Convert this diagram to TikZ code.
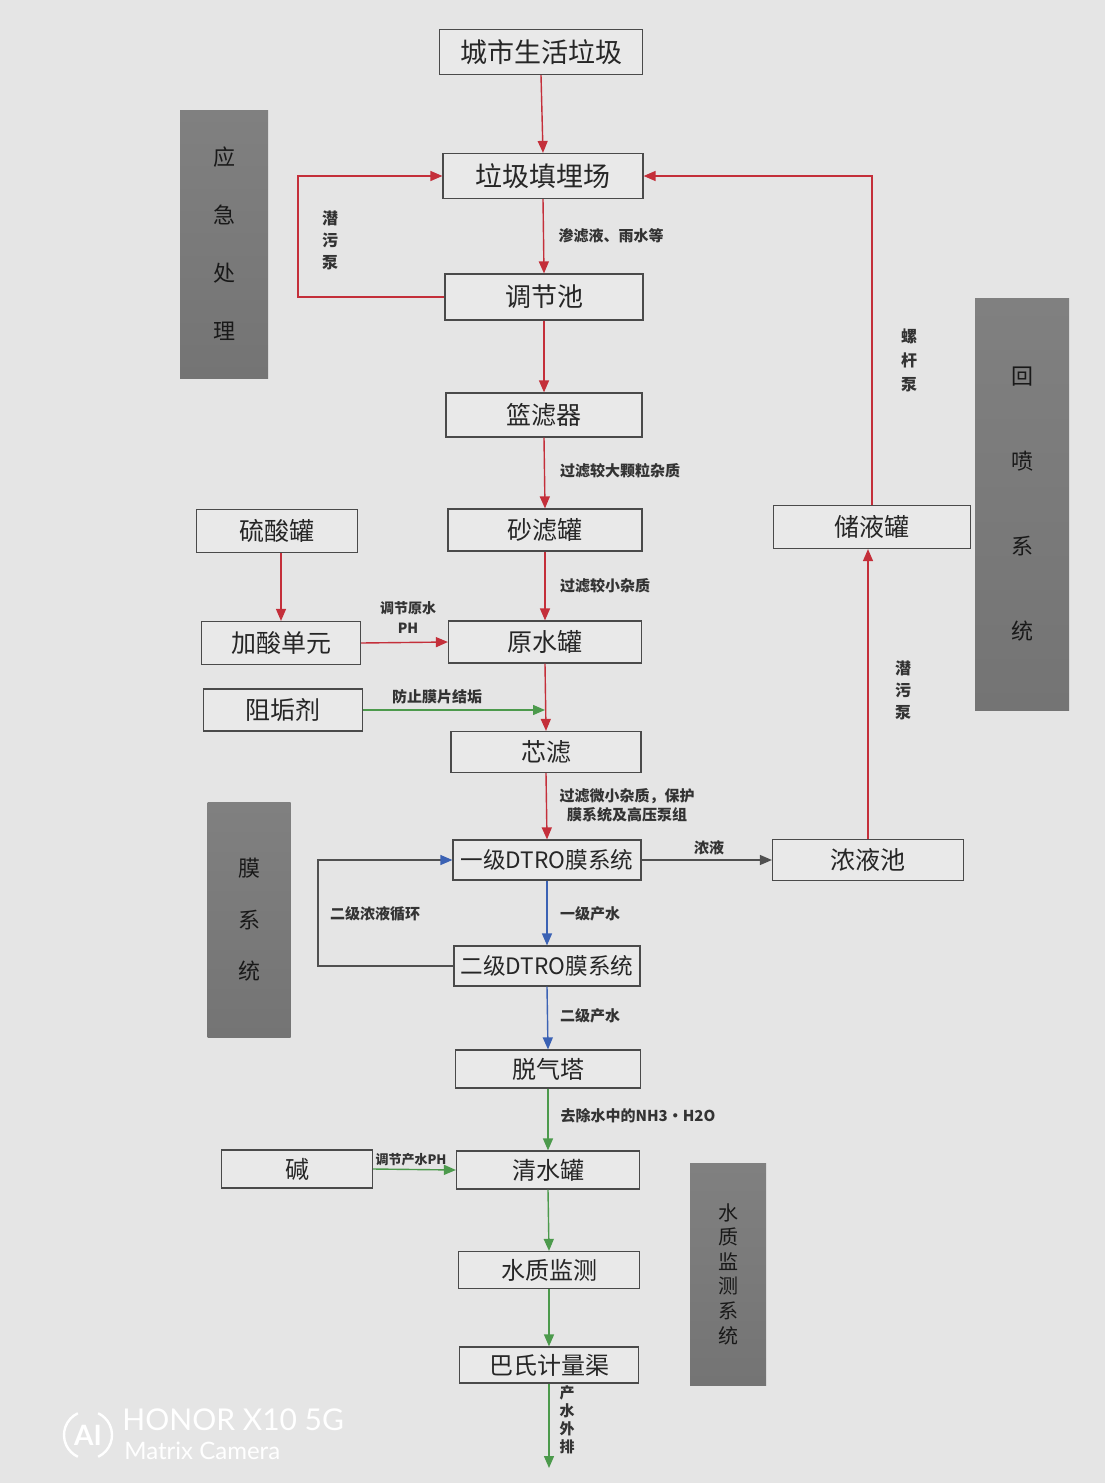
\documentclass[tikz,border=0pt]{standalone}
\usepackage{fontspec}
\setmainfont{Noto Sans CJK SC}
\newfontfamily\wmfont{Lato}
\usetikzlibrary{arrows.meta}
\definecolor{bgc}{HTML}{E5E5E5}
\definecolor{boxfill}{HTML}{E9E9E9}
\definecolor{boxline}{HTML}{4A4A4A}
\definecolor{redc}{HTML}{C42F3A}
\definecolor{bluec}{HTML}{3B62B4}
\definecolor{greenc}{HTML}{4C9A4C}
\definecolor{greyline}{HTML}{505050}
\definecolor{bartop}{HTML}{808080}
\definecolor{barbot}{HTML}{747474}
\begin{document}
\begin{tikzpicture}[x=0.5pt,y=-0.5pt,
  box/.style={draw=boxline, line width=0.6pt, fill=boxfill, inner sep=0pt,
    font=\fontsize{12.5}{14}\selectfont, text=black!85},
  dbox/.style={box, font=\fontsize{11.3}{14}\selectfont},
  lbl/.style={font=\fontsize{7.5}{9.5}\selectfont\bfseries, text=black!80, inner sep=1pt, align=center},
  bar/.style={top color=bartop, bottom color=barbot, draw=none, inner sep=0pt, align=center, text=black!90},
  tip/.style={-{Triangle[length=6pt,width=5pt]}},
  ra/.style={draw=redc, line width=0.7pt, tip},
  ba/.style={draw=bluec, line width=0.7pt, tip},
  ga/.style={draw=greenc, line width=0.7pt, tip},
  ka/.style={draw=greyline, line width=0.6pt, tip},
]
\fill[bgc] (0,0) rectangle (1105,1483);
\useasboundingbox (0,0) rectangle (1105,1483);

% side bars
\node[bar, minimum width=44pt, minimum height=134pt, font=\fontsize{11}{29}\selectfont] (b1) at (224,244) {应\\急\\处\\理};
\node[bar, minimum width=47pt, minimum height=206pt, font=\fontsize{11}{42.5}\selectfont] (b2) at (1022,504) {回\\喷\\系\\统};
\node[bar, minimum width=41.5pt, minimum height=117.5pt, font=\fontsize{11}{25.75}\selectfont] (b3) at (249,920) {膜\\系\\统};
\node[bar, minimum width=38pt, minimum height=111pt, font=\fontsize{10}{12.3}\selectfont] (b4) at (728,1274) {水\\质\\监\\测\\系\\统};

% main column
\node[box, minimum width=101.5pt, minimum height=22.5pt, font=\fontsize{13.5}{15}\selectfont] (n1) at (541,52) {城市生活垃圾};
\node[box, minimum width=100pt, minimum height=22.5pt, font=\fontsize{13.5}{15}\selectfont] (n2) at (543,176) {垃圾填埋场};
\node[box, minimum width=99pt, minimum height=23pt, font=\fontsize{13}{15}\selectfont] (n3) at (544,297) {调节池};
\node[box, minimum width=98pt, minimum height=22pt] (n4) at (544,415) {篮滤器};
\node[box, minimum width=97pt, minimum height=21pt] (n5) at (545,530) {砂滤罐};
\node[box, minimum width=96.5pt, minimum height=21pt] (n6) at (545,642) {原水罐};
\node[box, minimum width=95pt, minimum height=20.5pt] (n7) at (546,752) {芯滤};
\node[dbox, minimum width=94pt, minimum height=20pt] (n8) at (547,860) {一级DTRO膜系统};
\node[dbox, minimum width=93pt, minimum height=20pt] (n9) at (547,966) {二级DTRO膜系统};
\node[box, minimum width=92.5pt, minimum height=19pt, font=\fontsize{12}{14}\selectfont] (n10) at (548,1069) {脱气塔};
\node[box, minimum width=91.5pt, minimum height=19pt, font=\fontsize{12}{14}\selectfont] (n11) at (548,1170) {清水罐};
\node[box, minimum width=90.5pt, minimum height=18.5pt, font=\fontsize{12}{14}\selectfont] (n12) at (549,1270) {水质监测};
\node[box, minimum width=89.5pt, minimum height=18pt, font=\fontsize{12}{14}\selectfont] (n13) at (549,1365) {巴氏计量渠};

% side boxes
\node[box, minimum width=80.5pt, minimum height=21.5pt] (s1) at (277,531) {硫酸罐};
\node[box, minimum width=79.5pt, minimum height=21.5pt] (s2) at (281,643) {加酸单元};
\node[box, minimum width=79.5pt, minimum height=21pt] (s3) at (283,710) {阻垢剂};
\node[box, minimum width=75.5pt, minimum height=19pt, font=\fontsize{12}{14}\selectfont] (s4) at (297,1169) {碱};
\node[box, minimum width=98.5pt, minimum height=21.5pt] (r1) at (872,527) {储液罐};
\node[box, minimum width=95.5pt, minimum height=20.5pt] (r2) at (868,860) {浓液池};

% helper coordinates
\coordinate (lp) at (298,297);
\coordinate (mp) at (318,966);
\coordinate (j1) at (545,710);
\coordinate (out) at (549,1468);

% red flow
\draw[ra] (n1.south) -- (n2.north);
\draw[ra] (n2.south) -- (n3.north);
\draw[ra] (n3.west) -- (lp) |- (n2.west);
\draw[ra] (n3.south) -- (n4.north);
\draw[ra] (n4.south) -- (n5.north);
\draw[ra] (n5.south) -- (n6.north);
\draw[ra] (s1.south -| s2.north) -- (s2.north);
\draw[ra] (s2.east) -- (n6.west);
\draw[ra] (n6.south) -- (n7.north);
\draw[ga] (s3.east) -- (j1);
\draw[ra] (n7.south) -- (n8.north);
\draw[ra] (r2.north) -- (r2.north |- r1.south);
\draw[ra] (r1.north) -- (r1.north |- n2.east) -- (n2.east);

% membrane
\draw[ka] (n8.east) -- (r2.west);
\draw[ba] (n8.south) -- (n9.north);
\draw[draw=greyline, line width=0.6pt, -{Triangle[length=6pt,width=5pt,color=bluec]}] (n9.west) -- (mp) |- (n8.west);
\draw[ba] (n9.south) -- (n10.north);

% green flow
\draw[ga] (n10.south) -- (n11.north);
\draw[ga] (s4.east) -- (n11.west);
\draw[ga] (n11.south) -- (n12.north);
\draw[ga] (n12.south) -- (n13.north);
\draw[ga] (n13.south) -- (out);

% labels
\node[lbl] (l1) at (611,236) {渗滤液、雨水等};
\node[lbl, font=\fontsize{8}{11}\selectfont\bfseries] (l2) at (330,240) {潜\\污\\泵};
\node[lbl] (l3) at (620,471) {过滤较大颗粒杂质};
\node[lbl] (l4) at (605,586) {过滤较小杂质};
\node[lbl, font=\fontsize{7}{10}\selectfont\bfseries] (l5) at (408,618) {调节原水\\PH};
\node[lbl] (l6) at (437,697) {防止膜片结垢};
\node[lbl] (l7) at (627,805) {过滤微小杂质，保护\\膜系统及高压泵组};
\node[lbl] (l8) at (590,914) {一级产水};
\node[lbl] (l9) at (375,914) {二级浓液循环};
\node[lbl] (l10) at (709,848) {浓液};
\node[lbl] (l11) at (590,1016) {二级产水};
\node[lbl] (l12) at (638,1116) {去除水中的NH3·H2O};
\node[lbl, font=\fontsize{6.5}{8}\selectfont\bfseries] (l13) at (411,1160) {调节产水PH};
\node[lbl, font=\fontsize{7.5}{9}\selectfont\bfseries] (l14) at (567,1420) {产\\水\\外\\排};
\node[lbl, font=\fontsize{8}{11}\selectfont\bfseries] (l15) at (903,690) {潜\\污\\泵};
\node[lbl, font=\fontsize{8}{12}\selectfont\bfseries] (l16) at (909,360) {螺\\杆\\泵};

% camera watermark
\node[text=white, font=\wmfont\fontsize{15}{16}\selectfont, anchor=west, inner sep=0pt] (w1) at (122,1420) {HONOR X10 5G};
\node[text=white, font=\wmfont\fontsize{12}{13}\selectfont, anchor=west, inner sep=0pt] (w2) at (124,1451) {Matrix Camera};
\node[text=white, font=\wmfont\bfseries\fontsize{14}{15}\selectfont, inner sep=0pt] (w3) at (88,1435) {AI};
\draw[white, line width=1.2pt] (w3.center) ++(115:12pt) arc[start angle=115, end angle=245, radius=12pt];
\draw[white, line width=1.2pt] (w3.center) ++(-65:12pt) arc[start angle=-65, end angle=65, radius=12pt];
\end{tikzpicture}
\end{document}
